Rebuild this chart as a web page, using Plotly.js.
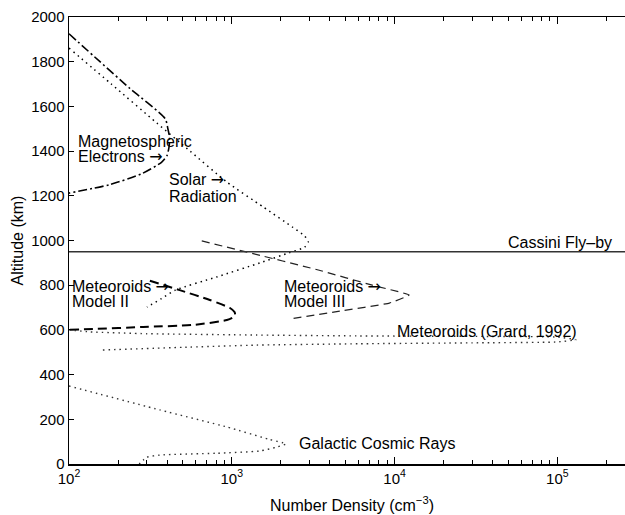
<!DOCTYPE html>
<html>
<head>
<meta charset="utf-8">
<script src="https://cdn.plot.ly/plotly-3.0.1.min.js"></script>
<style>
html, body { margin:0; padding:0; overflow:hidden; background:#fff; }
#chart { width:645px; height:515px; }
</style>
</head>
<body>
<div id="chart"></div>
<script>
// Magnetospheric electrons (dash-dot)
var magAlt = [1925, 1800, 1680, 1545, 1500, 1460, 1420, 1380, 1350, 1300, 1250, 1212];
var magDen = [100, 155, 237, 390, 405, 415, 412, 400, 370, 282, 178, 100];

// Solar radiation (dotted)
var solarAlt = [1861, 1700, 1525, 1400, 1262, 1150, 1060, 1020, 995, 970, 945, 900, 837, 778, 740, 702];
var solarDen = [100, 182, 347, 554, 931, 1560, 2360, 2800, 2950, 2800, 2250, 1490, 809, 450, 370, 301];

// Meteoroids Model II (thick dashed)
var m2Alt = [820, 778, 734, 698, 680, 667, 655, 644, 622, 613, 604, 600];
var m2Den = [314, 479, 733, 975, 1040, 1048, 1010, 933, 576, 285, 140, 100];

// Meteoroids Model III (thin dashed)
var m3Alt = [998, 948, 868, 800, 756, 720, 684, 649];
var m3Den = [654, 1240, 3400, 7300, 12300, 9300, 4600, 2270];

// Meteoroids (Grard, 1992) (dotted)
var grardAlt = [600, 591, 583, 577, 573, 571, 568, 556, 546, 542, 538, 532, 522, 510];
var grardDen = [100, 135, 300, 1420, 6100, 30000, 100000, 130000, 100000, 30000, 6100, 1420, 500, 160];

// Galactic cosmic rays (dotted)
var gcrAlt = [349, 242, 166, 110, 90, 76, 58, 48, 40, 30, 0];
var gcrDen = [100, 361, 930, 1700, 2150, 1900, 1480, 800, 361, 300, 270];

// Cassini fly-by altitude
var cassiniAlt = 950;
var cassiniDen = [100, 300000];

var xTickVals = [100, 1000, 10000, 100000];
var xTickText = ['10<sup>2</sup>', '10<sup>3</sup>', '10<sup>4</sup>', '10<sup>5</sup>'];
var minorVals = [];
[100, 1000, 10000, 100000].forEach(function(d){ for (var k=2;k<=9;k++) minorVals.push(d*k); });

var FONT = 'Liberation Sans, Arial, Helvetica, sans-serif';
var ARROW = '<span style="font-family:DejaVu Sans">→</span>';
var XRANGE = [2, Math.log10(300000)];

var traces = [
  {x: magDen, y: magAlt, mode:'lines', line:{color:'#000', width:1.6, dash:'9px,3px,2px,3px', shape:'spline', smoothing:0.6}},
  {x: solarDen, y: solarAlt, mode:'lines', line:{color:'#000', width:1.5, dash:'1.5px,4px', shape:'spline', smoothing:0.6}},
  {x: m2Den, y: m2Alt, mode:'lines', line:{color:'#000', width:2, dash:'9px,5px', shape:'spline', smoothing:0.6}},
  {x: m3Den, y: m3Alt, mode:'lines', line:{color:'#222', width:1.2, dash:'8px,5px', shape:'spline', smoothing:0.3}},
  {x: grardDen, y: grardAlt, mode:'lines', line:{color:'#333', width:1.4, dash:'1.5px,4px', shape:'spline', smoothing:0.4}},
  {x: gcrDen, y: gcrAlt, mode:'lines', line:{color:'#333', width:1.4, dash:'1.5px,4px', shape:'spline', smoothing:0.5}},
  {x: cassiniDen, y: [cassiniAlt, cassiniAlt], mode:'lines', line:{color:'#333', width:1.4}},
  // invisible helper trace so the minor-tick overlay axis is drawn
  {x: cassiniDen, y: [cassiniAlt, cassiniAlt], xaxis:'x2', mode:'lines', line:{width:0}, opacity:0, hoverinfo:'skip'}
];

function ann(text, x, y, anchor) {
  return {text:text, x:x, y:y, xref:'x', yref:'y', showarrow:false,
          xanchor: anchor || 'left', yanchor:'middle',
          font:{family:FONT, size:16, color:'#000'}};
}
var L = Math.log10;
var annotations = [
  ann('Magnetospheric', L(111), 1441),
  ann('Electrons ' + ARROW, L(111), 1374),
  ann('Solar ' + ARROW, L(399), 1271),
  ann('Radiation', L(399), 1199),
  ann('Cassini Fly–by', L(224000), 993, 'right'),
  ann('Meteoroids ' + ARROW, L(101), 794),
  ann('Model II', L(101), 725),
  ann('Meteoroids ' + ARROW, L(2030), 794),
  ann('Model III', L(2030), 725),
  ann('Meteoroids (Grard, 1992)', L(10000), 593),
  ann('Galactic Cosmic Rays', L(2500), 90)
];

var layout = {
  width:645, height:515,
  margin:{l:69, r:10, t:17, b:51},
  paper_bgcolor:'#fff', plot_bgcolor:'#fff',
  showlegend:false,
  font:{family:FONT, size:15, color:'#000'},
  xaxis:{
    type:'log', range:XRANGE,
    tickmode:'array', tickvals:xTickVals, ticktext:xTickText,
    ticks:'inside', ticklen:7, tickwidth:1.2, tickcolor:'#000',
    showline:true, linecolor:'#000', linewidth:1.5, mirror:'ticks',
    showgrid:false, zeroline:false,
    tickfont:{family:FONT, size:15},
    title:{text:'Number Density (cm<sup>−3</sup>)', font:{family:FONT, size:16}, standoff:14}
  },
  xaxis2:{
    type:'log', range:XRANGE, overlaying:'x', anchor:'y', side:'bottom',
    tickmode:'array', tickvals:minorVals, showticklabels:false,
    ticks:'inside', ticklen:4, tickwidth:1, tickcolor:'#000',
    showline:true, linecolor:'#000', linewidth:1.5, mirror:'ticks',
    showgrid:false, zeroline:false
  },
  yaxis:{
    range:[0, 2000], dtick:200, tick0:0,
    ticks:'inside', ticklen:5, tickwidth:1.2, tickcolor:'#000',
    showline:true, linecolor:'#000', linewidth:1.5, mirror:'ticks',
    showgrid:false, zeroline:false,
    tickfont:{family:FONT, size:15},
    title:{text:'Altitude (km)', font:{family:FONT, size:16}, standoff:3}
  },
  annotations: annotations
};

Plotly.newPlot('chart', traces, layout, {displayModeBar:false, staticPlot:true});
</script>
</body>
</html>
